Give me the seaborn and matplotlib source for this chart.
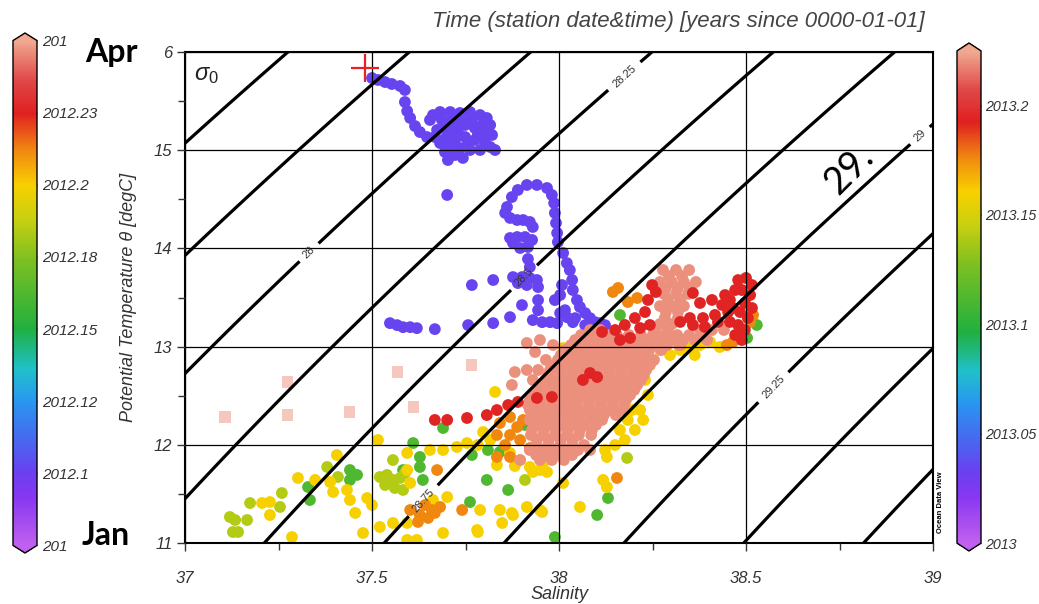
import numpy as np
import pandas as pd
import matplotlib
matplotlib.use("Agg")
import matplotlib.pyplot as plt
import seaborn as sns
from matplotlib.colors import LinearSegmentedColormap, Normalize
from matplotlib.cm import ScalarMappable
from matplotlib.ticker import MultipleLocator

# ---------------- data ----------------
# January track (purple)
blue_sal = [37.500, 37.516, 37.535, 37.553, 37.575, 37.588, 37.588, 37.594, 37.602, 37.615, 37.628, 37.647,
            37.663, 37.682, 37.709, 37.735, 37.762, 37.789, 37.807, 37.816, 37.802, 37.775, 37.749, 37.722,
            37.695, 37.674, 37.668, 37.695, 37.722, 37.749, 37.775, 37.802, 37.816, 37.789, 37.762, 37.735,
            37.709, 37.682, 37.695, 37.722, 37.743, 37.703, 37.701,
            37.655, 37.714, 37.741, 37.767, 37.794, 37.783, 37.757, 37.730, 37.703, 37.687, 37.821, 37.829,
            37.941, 37.968, 37.981, 37.987, 37.989, 37.992, 37.995, 37.997, 37.914, 37.890, 37.874, 37.861,
            37.856, 37.869, 37.888, 37.904, 37.922, 37.930, 37.869, 37.888, 37.909, 37.928, 37.917, 37.896,
            37.877, 37.917, 37.922, 37.877, 37.901, 37.922, 37.941, 37.944, 37.914, 37.890, 37.824, 37.901,
            37.869, 37.824, 37.944, 37.944, 37.930, 37.955, 37.976, 38.011, 38.021, 38.029, 38.035, 38.037,
            38.048, 38.056, 38.070, 38.083, 38.096, 38.110, 38.003, 38.021, 37.995, 38.037, 37.548, 37.567,
            37.583, 37.602, 37.620, 37.668, 37.767, 37.757, 37.989, 38.016, 38.043, 38.070, 38.123, 38.003,
            38.008]
blue_theta = [15.735, 15.715, 15.694, 15.674, 15.654, 15.613, 15.491, 15.399, 15.328, 15.246, 15.185, 15.134,
              15.358, 15.389, 15.389, 15.379, 15.389, 15.358, 15.328, 15.257, 15.185, 15.226, 15.257, 15.267,
              15.246, 15.206, 15.134, 15.114, 15.104, 15.134, 15.104, 15.084, 15.033, 15.002, 15.002, 15.022,
              15.043, 15.073, 14.982, 14.951, 14.921, 14.900, 14.544,
              15.308, 15.328, 15.308, 15.308, 15.257, 15.155, 15.084, 15.185, 15.185, 15.308, 15.155, 15.002,
              14.646, 14.615, 14.544, 14.462, 14.361, 14.259, 14.157, 14.065, 14.646, 14.595, 14.523, 14.422,
              14.361, 14.310, 14.289, 14.289, 14.269, 14.218, 14.106, 14.116, 14.116, 14.086, 14.014, 14.004,
              14.055, 13.892, 13.810, 13.708, 13.708, 13.698, 13.678, 13.606, 13.627, 13.647, 13.678, 13.423,
              13.300, 13.239, 13.474, 13.371, 13.270, 13.249, 13.249, 13.953, 13.851, 13.779, 13.678, 13.576,
              13.474, 13.403, 13.341, 13.290, 13.249, 13.239, 13.341, 13.300, 13.239, 13.249, 13.239, 13.219,
              13.198, 13.198, 13.188, 13.178, 13.627, 13.219, 13.474, 13.371, 13.290, 13.219, 13.219, 13.525,
              13.627]
blue_time = 2012.101

green_sal = [37.441, 37.460, 37.441, 37.329, 37.334, 37.583, 37.628, 37.636, 37.628, 37.610, 37.690, 37.810,
             37.842, 37.767, 37.807, 37.864, 37.762, 38.102, 37.989, 38.131, 37.968, 37.941, 37.909, 38.163,
             38.529, 38.503]
green_theta = [11.743, 11.693, 11.642, 11.570, 11.438, 11.743, 11.774, 11.642, 11.876, 12.018, 12.171, 11.947,
               11.927, 11.896, 11.642, 11.540, 11.417, 11.285, 11.061, 11.458, 12.558, 12.558, 12.202, 13.322,
               13.220, 13.088]
green_time = 2012.162

ygreen_sal = [37.380, 37.409, 37.259, 37.254, 37.174, 37.166, 37.134, 37.128, 37.142, 37.120, 37.556, 37.909,
              38.182, 37.521, 37.540, 37.556, 37.575, 37.588, 37.561, 37.535, 37.583, 38.083]
ygreen_theta = [11.774, 11.672, 11.509, 11.367, 11.407, 11.234, 11.234, 11.112, 11.112, 11.265, 11.845, 11.642,
                11.866, 11.672, 11.693, 11.642, 11.662, 11.713, 11.560, 11.591, 11.540, 13.016]
ygreen_time = 2012.184

yellow_sal = [38.270, 38.297, 38.324, 38.350, 38.377, 38.404, 38.430, 38.363, 38.243, 38.230, 38.238, 38.217,
              38.225, 38.203, 38.176, 38.150, 38.123, 38.011, 38.037, 38.096, 37.655, 37.690, 37.727, 37.754,
              37.869, 37.896, 37.922, 37.949, 37.957, 37.834, 37.882, 37.930, 37.968, 38.128, 38.118, 38.128,
              38.056, 37.949, 37.914, 37.877, 37.842, 37.789, 37.781, 37.690, 37.594, 37.594, 37.594, 37.602,
              37.663, 37.701, 37.829, 37.594, 37.620, 37.783, 37.848, 37.874, 37.955, 38.011, 37.516, 37.406,
              37.348, 37.302, 37.388, 37.396, 37.433, 37.227, 37.206, 37.227, 37.286, 37.441, 37.455, 37.476,
              37.487, 37.500, 37.521, 37.556, 37.797, 37.816, 37.783, 38.184, 38.163, 38.195]
yellow_theta = [12.965, 12.914, 12.965, 12.986, 13.016, 13.047, 12.996, 12.914, 12.813, 12.660, 12.507, 12.354,
                12.253, 12.151, 12.049, 11.998, 11.947, 12.986, 12.945, 13.016, 11.947, 11.947, 11.978, 12.018,
                11.917, 11.845, 11.774, 11.743, 11.815, 11.794, 11.784, 11.723, 11.723, 11.876, 11.642, 11.570,
                11.367, 11.336, 11.367, 11.285, 11.336, 11.336, 11.132, 11.102, 11.204, 11.743, 11.917, 11.611,
                11.438, 11.468, 12.538, 11.031, 11.031, 11.112, 11.204, 11.306, 11.316, 11.611, 12.049, 11.896,
                11.642, 11.662, 11.621, 11.519, 11.540, 11.417, 11.407, 11.285, 11.061, 11.438, 11.306, 11.102,
                11.458, 11.387, 11.163, 11.204, 12.130, 12.049, 11.998, 12.253, 12.151, 12.354]
yellow_time = 2012.200

orange_sal = [38.144, 38.158, 38.184, 38.209, 38.511, 38.519, 38.465, 38.449, 38.283, 38.324, 38.029, 38.123,
              38.150, 38.019, 37.842, 37.869, 37.888, 37.904, 37.930, 37.834, 37.869, 37.834, 37.869, 37.856,
              37.896, 37.922, 37.602, 37.628, 37.650, 37.668, 37.642, 37.623, 37.660, 37.682, 37.674, 37.741,
              38.155, 38.003]
orange_theta = [13.556, 13.597, 13.454, 13.495, 13.251, 13.322, 13.047, 13.016, 13.067, 13.016, 12.640, 12.884,
                12.914, 12.579, 12.222, 12.283, 12.181, 12.253, 12.324, 12.100, 12.100, 11.876, 11.876, 11.998,
                12.049, 11.967, 11.336, 11.285, 11.255, 11.306, 11.387, 11.214, 11.336, 11.367, 11.743, 11.336,
                11.662, 12.741]
orange_time = 2012.212

salmon_sal = [38.278, 38.313, 38.348, 38.294, 38.329,
              38.270, 38.302, 38.334, 38.366, 38.286, 38.318, 38.350,
              38.281, 38.313, 38.345, 38.291, 38.324,
              38.270, 38.302, 38.334, 38.286, 38.318,
              38.283, 38.318, 38.270, 38.302,
              38.083, 38.110, 38.257, 38.291, 38.377, 38.409, 38.441,
              38.059, 38.091, 38.123, 38.155, 38.187, 38.219, 38.251, 38.283, 38.316, 38.348, 38.380,
              38.043, 38.075, 38.107, 38.139, 38.171, 38.203, 38.235, 38.267, 38.299, 38.332, 38.363, 38.396,
              38.032, 38.064, 38.096, 38.128, 38.160, 38.193, 38.225, 38.257, 38.289, 38.321,
              38.016, 38.048, 38.080, 38.112, 38.144, 38.176, 38.209, 38.241, 38.273,
              38.005, 38.037, 38.070, 38.102, 38.134, 38.166, 38.198, 38.230,
              37.965, 37.997, 38.029, 38.061, 38.094, 38.126, 38.158, 38.190, 38.222, 38.254,
              37.987, 38.019, 38.051, 38.083, 38.115, 38.147, 38.179, 38.211, 38.243,
              37.914, 37.944, 37.976, 38.008, 38.040, 38.072, 38.104, 38.136, 38.168, 38.201, 38.233,
              37.971, 38.003, 38.035, 38.067, 38.099, 38.131, 38.163, 38.195, 38.227,
              37.930, 37.963, 37.995, 38.027, 38.059, 38.091, 38.123, 38.155, 38.187, 38.219,
              37.952, 37.984, 38.016, 38.048, 38.080, 38.112, 38.144, 38.176, 38.209,
              37.944, 37.976, 38.008, 38.040, 38.072, 38.104, 38.136, 38.168, 38.201,
              37.933, 37.965, 37.997, 38.029, 38.061, 38.094, 38.126, 38.158, 38.190,
              37.922, 37.955, 37.987, 38.019, 38.051, 38.083, 38.115, 38.147, 38.179,
              37.917, 37.949, 37.981, 38.013, 38.045, 38.078, 38.110, 38.142, 38.174,
              37.922, 37.941, 37.973, 38.005, 38.037, 38.070, 38.102, 38.134, 38.166,
              37.928, 37.960, 37.992, 38.024, 38.056, 38.088, 38.120, 38.152,
              37.922, 37.955, 37.987, 38.019, 38.051, 38.083, 38.115,
              37.939, 37.971, 38.003, 38.035, 38.067, 38.099,
              37.928, 37.960, 37.992, 38.024, 38.056, 38.088,
              37.925, 37.957, 37.989, 38.021, 38.053, 38.086,
              37.941, 37.973, 38.005, 38.037,
              37.939, 37.971, 38.003, 38.035, 38.067,
              37.922, 37.955, 37.987, 38.019, 38.051, 38.083,
              37.939, 37.971, 38.003, 38.035,
              37.896, 37.949, 37.981, 38.013,
              37.914, 37.949, 37.984, 37.936, 37.882, 37.874]
salmon_theta = [13.780, 13.780, 13.780, 13.719, 13.719,
                13.658, 13.658, 13.658, 13.658, 13.597, 13.597, 13.597,
                13.536, 13.536, 13.536, 13.475, 13.475,
                13.413, 13.413, 13.413, 13.352, 13.352,
                13.291, 13.291, 13.230, 13.230,
                13.169, 13.169, 13.169, 13.169, 13.169, 13.169, 13.169,
                13.118, 13.118, 13.118, 13.118, 13.118, 13.118, 13.118, 13.118, 13.118, 13.118, 13.118,
                13.067, 13.067, 13.067, 13.067, 13.067, 13.067, 13.067, 13.067, 13.067, 13.067, 13.067, 13.067,
                13.016, 13.016, 13.016, 13.016, 13.016, 13.016, 13.016, 13.016, 13.016, 13.016,
                12.965, 12.965, 12.965, 12.965, 12.965, 12.965, 12.965, 12.965, 12.965,
                12.914, 12.914, 12.914, 12.914, 12.914, 12.914, 12.914, 12.914,
                12.864, 12.864, 12.864, 12.864, 12.864, 12.864, 12.864, 12.864, 12.864, 12.864,
                12.813, 12.813, 12.813, 12.813, 12.813, 12.813, 12.813, 12.813, 12.813,
                12.762, 12.762, 12.762, 12.762, 12.762, 12.762, 12.762, 12.762, 12.762, 12.762, 12.762,
                12.711, 12.711, 12.711, 12.711, 12.711, 12.711, 12.711, 12.711, 12.711,
                12.660, 12.660, 12.660, 12.660, 12.660, 12.660, 12.660, 12.660, 12.660, 12.660,
                12.609, 12.609, 12.609, 12.609, 12.609, 12.609, 12.609, 12.609, 12.609,
                12.558, 12.558, 12.558, 12.558, 12.558, 12.558, 12.558, 12.558, 12.558,
                12.507, 12.507, 12.507, 12.507, 12.507, 12.507, 12.507, 12.507, 12.507,
                12.456, 12.456, 12.456, 12.456, 12.456, 12.456, 12.456, 12.456, 12.456,
                12.405, 12.405, 12.405, 12.405, 12.405, 12.405, 12.405, 12.405, 12.405,
                12.354, 12.354, 12.354, 12.354, 12.354, 12.354, 12.354, 12.354, 12.354,
                12.303, 12.303, 12.303, 12.303, 12.303, 12.303, 12.303, 12.303,
                12.253, 12.253, 12.253, 12.253, 12.253, 12.253, 12.253,
                12.202, 12.202, 12.202, 12.202, 12.202, 12.202,
                12.151, 12.151, 12.151, 12.151, 12.151, 12.151,
                12.100, 12.100, 12.100, 12.100, 12.100, 12.100,
                12.049, 12.049, 12.049, 12.049,
                11.998, 11.998, 11.998, 11.998, 11.998,
                11.947, 11.947, 11.947, 11.947, 11.947, 11.947,
                11.896, 11.896, 11.896, 11.896,
                11.845, 11.845, 11.845, 11.845,
                13.037, 13.067, 13.016, 12.945, 12.741, 12.609]
salmon_time = 2012.246

red_sal = [38.479, 38.500, 38.516, 38.489, 38.511, 38.497, 38.516, 38.484, 38.505, 38.479, 38.497, 38.471,
           38.489, 38.457, 38.377, 38.409, 38.436, 38.452, 38.417, 38.385, 38.350, 38.324, 38.358, 38.390,
           38.425, 38.457, 38.150, 38.176, 38.203, 38.230, 38.217, 38.190, 38.243, 38.163, 38.238, 38.249,
           38.259, 38.115, 38.083, 38.064, 38.102, 37.668, 37.701, 37.754, 37.807, 37.834, 37.864, 37.890,
           37.941, 37.981, 38.358, 38.471, 38.465, 38.444]
red_theta = [13.678, 13.699, 13.627, 13.576, 13.525, 13.444, 13.393, 13.352, 13.291, 13.220, 13.169, 13.118,
             13.067, 13.475, 13.444, 13.475, 13.424, 13.352, 13.322, 13.291, 13.291, 13.251, 13.220, 13.200,
             13.251, 13.251, 13.169, 13.220, 13.291, 13.352, 13.189, 13.088, 13.220, 13.067, 13.475, 13.627,
             13.556, 13.149, 12.731, 12.660, 12.690, 12.253, 12.253, 12.273, 12.303, 12.354, 12.405, 12.436,
             12.477, 12.487, 13.546, 13.576, 13.393, 13.525]
red_time = 2012.226

# faded points
pale_sal = [37.273, 37.107, 37.273, 37.439, 37.567, 37.610, 37.767]
pale_theta = [12.640, 12.283, 12.303, 12.334, 12.741, 12.385, 12.813]
pale_time = 2012.246

# current station marker
cross_sal = [37.481]
cross_theta = [15.837]

# isopycnal levels and labels
sigma_levels = [27.5, 27.75, 28.0, 28.25, 28.5, 28.75, 29.0, 29.25, 29.5, 29.75]
label_positions = [(37.326, 13.98), (38.163, 15.80), (37.904, 13.71), (37.634, 11.44),
                   (38.957, 15.18), (38.572, 12.59)]

x_ticks = [37, 37.5, 38, 38.5, 39]
x_tick_labels = ["37", "37.5", "38", "38.5", "39"]
y_ticks = [11, 12, 13, 14, 15, 16]
y_tick_labels = ["11", "12", "13", "14", "15", "6"]

left_cb_ticks = [2012.075, 2012.1, 2012.125, 2012.15, 2012.175, 2012.2, 2012.225, 2012.25]
left_cb_labels = ["201", "2012.1", "2012.12", "2012.15", "2012.18", "2012.2", "2012.23", "201"]
right_cb_ticks = [2013.0, 2013.05, 2013.1, 2013.15, 2013.2]
right_cb_labels = ["2013", "2013.05", "2013.1", "2013.15", "2013.2"]

title_text = "Time (station date&time) [years since 0000-01-01]"

# ---------------- style ----------------
sns.set_theme(style="white")
plt.rcParams['font.family'] = ['Liberation Sans', 'DejaVu Sans']
plt.rcParams['mathtext.fontset'] = 'custom'
plt.rcParams['mathtext.it'] = 'Liberation Sans:italic'
plt.rcParams['mathtext.rm'] = 'Liberation Sans'

odv_colors = [(0.000, "#c060f0"), (0.091, "#8838f0"), (0.143, "#6a40f0"), (0.210, "#4868f0"),
              (0.287, "#2898f0"), (0.349, "#20c0c8"), (0.428, "#20b040"), (0.570, "#80c020"),
              (0.646, "#c8d010"), (0.715, "#f8d000"), (0.784, "#f08810"), (0.857, "#e02020"),
              (0.923, "#e04848"), (1.000, "#f0a890")]
cmap = LinearSegmentedColormap.from_list("odv", odv_colors)
norm_left = Normalize(vmin=2012.075, vmax=2012.25)
norm_right = Normalize(vmin=2013.0, vmax=2013.225)

W, H = 1039, 604
fig = plt.figure(figsize=(W / 100, H / 100), dpi=100)
fig.patch.set_facecolor("white")
ax = fig.add_axes([185 / W, 1 - 543 / H, 748 / W, 491 / H])
ax.set_facecolor("white")

# ---------------- scatter ----------------
frames = []
for s, t, tm in [(blue_sal, blue_theta, blue_time), (green_sal, green_theta, green_time),
                 (ygreen_sal, ygreen_theta, ygreen_time), (yellow_sal, yellow_theta, yellow_time),
                 (orange_sal, orange_theta, orange_time), (salmon_sal, salmon_theta, salmon_time),
                 (red_sal, red_theta, red_time)]:
    frames.append(pd.DataFrame({"salinity": s, "theta": t, "time": [tm] * len(s)}))
df = pd.concat(frames, ignore_index=True)
pale_df = pd.DataFrame({"salinity": pale_sal, "theta": pale_theta, "time": [pale_time] * len(pale_sal)})

sns.scatterplot(data=pale_df, x="salinity", y="theta", hue="time", palette=cmap, hue_norm=norm_left,
                s=64, marker="s", linewidth=0, alpha=0.5, legend=False, ax=ax, zorder=1)
sns.scatterplot(data=df, x="salinity", y="theta", hue="time", palette=cmap, hue_norm=norm_left,
                s=72, marker="o", linewidth=0, legend=False, ax=ax, zorder=1)
sns.scatterplot(x=cross_sal, y=cross_theta, marker="+", s=380, color="#e8202a", linewidth=1.6,
                legend=False, ax=ax, zorder=4)

# ---------------- isopycnals ----------------
def sigma0(S, T):
    rw = (999.842594 + 6.793952e-2 * T - 9.095290e-3 * T ** 2 + 1.001685e-4 * T ** 3
          - 1.120083e-6 * T ** 4 + 6.536332e-9 * T ** 5)
    A = 8.24493e-1 - 4.0899e-3 * T + 7.6438e-5 * T ** 2 - 8.2467e-7 * T ** 3 + 5.3875e-9 * T ** 4
    B = -5.72466e-3 + 1.0227e-4 * T - 1.6546e-6 * T ** 2
    C = 4.8314e-4
    return rw + A * S + B * S ** 1.5 + C * S ** 2 - 1000.0

Sg, Tg = np.meshgrid(np.linspace(36.9, 39.1, 300), np.linspace(10.9, 16.1, 300))
cs = ax.contour(Sg, Tg, sigma0(Sg, Tg), levels=sigma_levels, colors="black", linewidths=2.3, zorder=3)
ax.clabel(cs, manual=label_positions, inline=True, inline_spacing=6, fontsize=8, colors="#333333",
          fmt=lambda v: f"{v:g}")

# ---------------- axes ----------------
ax.set_xlim(37, 39)
ax.set_ylim(11, 16)
ax.set_xticks(x_ticks, labels=x_tick_labels)
ax.set_yticks(y_ticks, labels=y_tick_labels)
ax.xaxis.set_minor_locator(MultipleLocator(0.25))
ax.yaxis.set_minor_locator(MultipleLocator(0.5))
ax.tick_params(which="both", direction="out", bottom=True, left=True, top=False, right=False,
               color="#333333", width=1.0)
ax.tick_params(which="major", length=6)
ax.tick_params(which="minor", length=5)
ax.tick_params(axis="x", which="major", pad=14, labelsize=12, labelcolor="#333333")
ax.tick_params(axis="y", which="major", pad=3, labelsize=12, labelcolor="#333333")
for lab in ax.get_xticklabels() + ax.get_yticklabels():
    lab.set_fontstyle("italic")
ax.grid(True, which="major", color="black", linewidth=0.9)
ax.set_axisbelow(False)
for sp in ax.spines.values():
    sp.set_color("black")
    sp.set_linewidth(1.5)
ax.set_xlabel("Salinity", fontsize=13, fontstyle="italic", color="#333333")
ax.set_ylabel("Potential Temperature θ [degC]", fontsize=13, fontstyle="italic", color="#333333")
ax.xaxis.set_label_coords(0.5, -0.088)
ax.yaxis.set_label_coords(-0.064, 0.5)

ax.text(0.012, 0.953, r"$\sigma_0$", transform=ax.transAxes, fontsize=17, ha="left", va="center",
        color="#222222")

# ---------------- colorbars ----------------
cax_l = fig.add_axes([13 / W, 1 - 553 / H, 24 / W, 520 / H])
cb_l = fig.colorbar(ScalarMappable(norm=norm_left, cmap=cmap), cax=cax_l, extend="both", extendfrac=0.015)
cb_l.set_ticks(left_cb_ticks, labels=left_cb_labels)
cax_r = fig.add_axes([957 / W, 1 - 551 / H, 24 / W, 508 / H])
cb_r = fig.colorbar(ScalarMappable(norm=norm_right, cmap=cmap), cax=cax_r, extend="both", extendfrac=0.016)
cb_r.set_ticks(right_cb_ticks, labels=right_cb_labels)
for cb, fs, pd_ in ((cb_l, 11, 4), (cb_r, 10.3, 3)):
    cb.outline.set_edgecolor("black")
    cb.outline.set_linewidth(1.0)
    cb.ax.tick_params(direction="in", length=3, left=True, right=True, width=1, color="#222222",
                      labelsize=fs, labelcolor="#333333", pad=pd_)
    for lab in cb.ax.get_yticklabels():
        lab.set_fontstyle("italic")

# ---------------- annotations ----------------
fig.text(925 / W, 1 - 21 / H, title_text, ha="right", va="center", fontsize=16, fontstyle="italic",
         color="#444444")
fig.text(85 / W, 1 - 62 / H, "Apr", ha="left", va="baseline", fontsize=23, fontweight="bold",
         family=["Lato", "DejaVu Sans"], color="black")
fig.text(82 / W, 1 - 545 / H, "Jan", ha="left", va="baseline", fontsize=23, fontweight="bold",
         family=["Lato", "DejaVu Sans"], color="black")
fig.text(849 / W, 1 - 170 / H, "29.", ha="center", va="center", fontsize=27, rotation=45,
         family=["Lato", "DejaVu Sans"], color="black")
fig.text(940 / W, 1 - 502 / H, "Ocean Data View", ha="center", va="center", fontsize=5.5, rotation=90,
         fontweight="bold", color="black")

fig.savefig("out.png", dpi=100, facecolor="white")
